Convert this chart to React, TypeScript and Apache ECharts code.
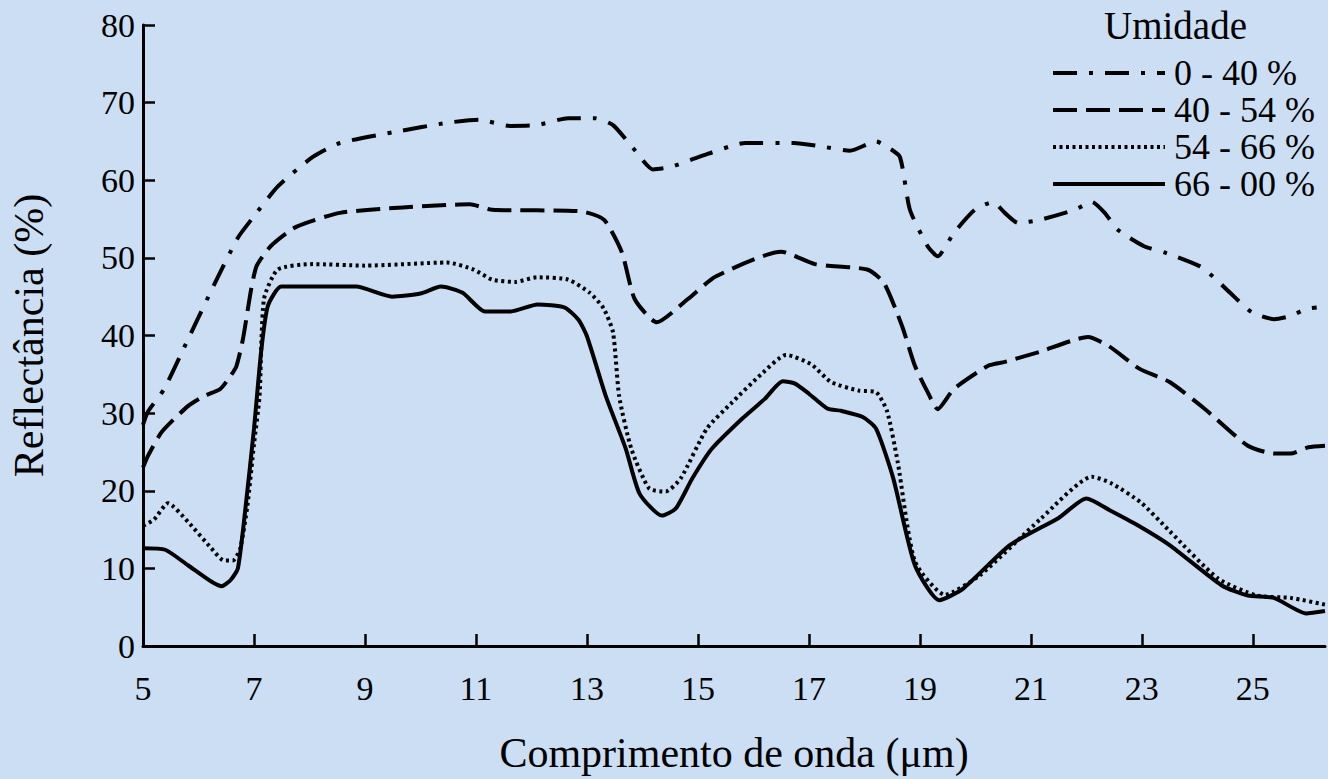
import React, { useEffect, useRef } from "react";
import * as echarts from "echarts";

const xTickLabels = [5, 7, 9, 11, 13, 15, 17, 19, 21, 23, 25];
const yTickLabels = [0, 10, 20, 30, 40, 50, 60, 70, 80];
const seriesNames = ["0 - 40 %", "40 - 54 %", "54 - 66 %", "66 - 00 %"];

// 0 - 40 %
const xA = [5.0, 5.09, 5.38, 5.81, 6.3, 6.71, 6.95, 7.43, 8.06, 8.55, 9.52, 10.48, 11.05, 11.61, 12.1, 12.66, 13.14, 13.47, 13.86, 14.19, 14.51, 15.02, 15.86, 16.73, 17.27, 17.74, 18.21, 18.41, 18.64, 18.82, 19.14, 19.32, 19.61, 19.99, 20.32, 20.53, 20.77, 21.16, 21.79, 22.1, 22.33, 22.57, 23.04, 23.41, 24.05, 24.28, 24.59, 24.98, 25.38, 25.68, 25.95, 26.15];
const yA = [28.5, 30.2, 33.1, 39.5, 46.8, 52.6, 54.9, 59.2, 63.0, 64.8, 66.2, 67.4, 67.8, 67.0, 67.1, 68.0, 68.0, 67.1, 63.9, 61.4, 61.7, 63.0, 64.8, 64.8, 64.3, 63.8, 65.0, 64.3, 63.0, 56.2, 51.5, 50.2, 53.2, 56.2, 57.2, 55.8, 54.5, 54.9, 56.2, 57.2, 55.8, 53.6, 51.5, 50.7, 48.9, 47.6, 45.5, 43.0, 42.1, 42.5, 43.4, 43.6];

// 40 - 54 %
const xB = [5.0, 5.09, 5.34, 5.81, 6.1, 6.39, 6.55, 6.68, 6.8, 6.95, 7.05, 7.3, 7.76, 8.55, 9.68, 10.89, 11.29, 12.89, 13.31, 13.63, 13.86, 14.26, 14.82, 15.32, 16.5, 17.11, 18.05, 18.35, 18.68, 18.91, 19.14, 19.32, 19.61, 20.23, 20.53, 21.16, 22.03, 22.41, 22.96, 23.5, 24.14, 24.91, 25.38, 25.68, 26.0, 26.3];
const yB = [23.0, 24.5, 27.6, 30.9, 32.2, 33.1, 34.5, 36.0, 39.5, 46.0, 49.0, 51.5, 54.0, 55.8, 56.5, 56.9, 56.2, 56.0, 54.9, 50.7, 44.7, 41.7, 44.7, 47.6, 50.8, 49.2, 48.5, 46.8, 41.2, 36.1, 32.7, 30.5, 33.1, 36.1, 36.6, 37.9, 39.8, 38.6, 35.7, 34.0, 30.5, 25.8, 24.8, 24.8, 25.6, 25.8];

// 54 - 66 %
const xC = [5.0, 5.2, 5.45, 5.81, 6.23, 6.46, 6.62, 6.75, 6.88, 7.0, 7.1, 7.18, 7.43, 8.06, 9.0, 10.48, 10.96, 11.29, 11.7, 12.1, 12.66, 13.05, 13.3, 13.47, 13.58, 13.8, 14.12, 14.42, 14.69, 15.16, 15.59, 16.14, 16.59, 17.04, 17.4, 17.9, 18.21, 18.41, 18.6, 18.91, 19.45, 20.08, 21.18, 22.1, 22.44, 22.98, 23.5, 24.37, 25.07, 25.68, 26.32];
const yC = [15.5, 16.3, 18.4, 16.0, 12.6, 11.0, 11.0, 12.5, 18.0, 26.0, 32.2, 44.7, 48.5, 49.2, 49.0, 49.4, 48.5, 47.2, 46.9, 47.5, 47.2, 45.5, 43.5, 40.4, 32.2, 25.4, 20.3, 19.9, 21.6, 28.0, 31.2, 35.0, 37.5, 36.3, 34.0, 32.9, 32.7, 30.2, 23.7, 10.9, 6.6, 9.1, 16.4, 21.8, 21.0, 18.5, 14.8, 8.7, 6.5, 6.2, 5.3];

// 66 - 00 %
const xD = [5.0, 5.4, 5.81, 6.23, 6.42, 6.58, 6.71, 6.85, 7.0, 7.13, 7.25, 7.49, 8.0, 8.84, 9.49, 10.0, 10.37, 10.76, 11.16, 11.63, 12.11, 12.6, 12.85, 13.0, 13.34, 13.7, 13.95, 14.35, 14.6, 14.9, 15.25, 15.8, 16.2, 16.53, 16.75, 17.0, 17.33, 17.58, 17.97, 18.21, 18.52, 18.91, 19.35, 19.78, 20.62, 21.5, 22.0, 22.42, 22.94, 23.5, 24.44, 24.91, 25.38, 25.96, 26.3];
const yD = [12.6, 12.4, 10.4, 8.3, 7.7, 8.5, 10.0, 18.0, 28.0, 38.0, 43.8, 46.3, 46.3, 46.3, 45.0, 45.4, 46.3, 45.5, 43.1, 43.1, 44.0, 43.6, 42.0, 39.9, 32.2, 25.4, 19.6, 16.8, 17.7, 21.6, 25.4, 29.3, 31.8, 34.1, 33.8, 32.5, 30.6, 30.3, 29.5, 28.0, 21.6, 10.4, 5.9, 7.4, 13.0, 16.5, 19.0, 17.5, 15.5, 13.0, 7.8, 6.5, 6.2, 4.2, 4.5];

const zip = (xs: number[], ys: number[]) => xs.map((x, i) => [x, ys[i]]);

const FONT = "Liberation Serif";
const INK = "#000";

export default function App() {
  const ref = useRef<HTMLDivElement>(null);
  useEffect(() => {
    const chart = echarts.init(ref.current!, null, { renderer: "svg" });
    const dashes: any[] = [[24, 12, 4, 12], [24, 9], [3, 3.5], "solid"];
    const widths = [4, 4, 4, 4];
    const datas = [zip(xA, yA), zip(xB, yB), zip(xC, yC), zip(xD, yD)];
    chart.setOption({
      animation: false,
      backgroundColor: "#cbdef3",
      title: {
        text: "Umidade",
        left: 1099,
        top: 1,
        textStyle: { fontFamily: FONT, fontSize: 39, fontWeight: "normal", color: INK },
      },
      legend: {
        orient: "vertical",
        left: 1046,
        top: 50,
        itemWidth: 112,
        itemHeight: 20,
        itemGap: 1,
        data: seriesNames,
        itemStyle: { opacity: 0 },
        lineStyle: { width: 4 },
        textStyle: {
          fontFamily: FONT,
          fontSize: 36,
          lineHeight: 36,
          color: INK,
          padding: [0, 0, 0, 4],
        },
      },
      grid: { left: 142, right: 3, top: 25, bottom: 129, containLabel: false },
      xAxis: {
        type: "value",
        min: 5,
        max: 26.3,
        name: "Comprimento de onda (μm)",
        nameLocation: "middle",
        nameGap: 86,
        nameTextStyle: { fontFamily: FONT, fontSize: 42, color: INK },
        axisLine: { show: true, lineStyle: { color: "#000", width: 3 } },
        axisTick: { show: true, inside: true, length: 12, lineStyle: { color: "#000", width: 2.5 }, customValues: xTickLabels },
        axisLabel: { fontFamily: FONT, fontSize: 34, color: INK, margin: 25, customValues: xTickLabels },
        splitLine: { show: false },
      },
      yAxis: {
        type: "value",
        min: 0,
        max: 80,
        interval: 10,
        name: "Reflectância (%)",
        nameLocation: "middle",
        nameGap: 93,
        nameTextStyle: { fontFamily: FONT, fontSize: 42, color: INK },
        axisLine: { show: true, lineStyle: { color: "#000", width: 3 } },
        axisTick: { show: true, inside: true, length: 12, lineStyle: { color: "#000", width: 2.5 }, customValues: yTickLabels },
        axisLabel: { fontFamily: FONT, fontSize: 34, color: INK, margin: 8, customValues: yTickLabels },
        splitLine: { show: false },
      },
      series: seriesNames.map((name, i) => ({
        name,
        type: "line",
        data: datas[i],
        symbol: "none",
        smooth: 0.2,
        lineStyle: { color: "#000", width: widths[i], type: dashes[i] },
        itemStyle: { color: "#000" },
      })),
    });
    return () => chart.dispose();
  }, []);
  return (
    <div
      ref={ref}
      style={{ position: "fixed", left: 0, top: 0, width: 1328, height: 779 }}
    />
  );
}
